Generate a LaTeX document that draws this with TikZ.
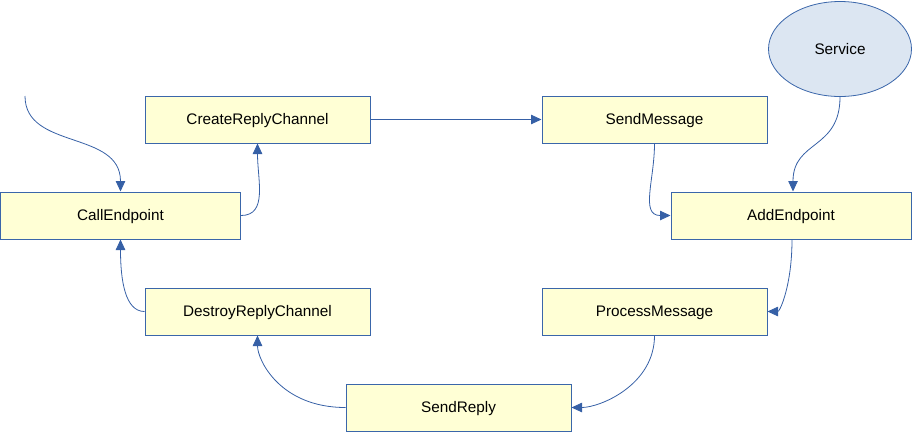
\documentclass[tikz,border=0pt]{standalone}
\usepackage{fontspec}
\setmainfont{Liberation Sans}
\usetikzlibrary{arrows.meta,shapes.geometric}
\definecolor{boxfill}{RGB}{255,255,213}
\definecolor{boxline}{RGB}{58,102,170}
\definecolor{ellfill}{RGB}{220,230,242}
\definecolor{edgec}{RGB}{54,96,166}
\begin{document}
\begin{tikzpicture}[x=1pt,y=-1pt,
  stepbox/.style={draw=boxline,fill=boxfill,line width=1pt,minimum width=225pt,minimum height=47pt,inner sep=0pt,text height=11pt,text depth=1pt,font=\fontsize{15.3}{18}\selectfont},
  widebox/.style={stepbox,minimum width=240pt},
  svc/.style={draw=boxline,fill=ellfill,line width=0.8pt,ellipse,minimum width=143pt,minimum height=95pt,inner sep=0pt,text height=11pt,text depth=1pt,font=\fontsize{15.3}{18}\selectfont},
  arr/.style={draw=edgec,line width=0.8pt,-{Triangle[length=10.5pt,width=9.5pt]},fill=none}]
\useasboundingbox (0,0) rectangle (912,432);
\node[stepbox] (crc) at (257.5,119.5) {CreateReplyChannel};
\node[stepbox] (sm) at (654.5,119.5) {SendMessage};
\node[widebox] (call) at (120.5,215.5) {CallEndpoint};
\node[widebox] (ae) at (791,215.5) {AddEndpoint};
\node[stepbox] (dr) at (257.5,311.5) {DestroyReplyChannel};
\node[stepbox] (pm) at (654.5,311.5) {ProcessMessage};
\node[stepbox] (sr) at (458.5,407.5) {SendReply};
\node[svc] (svc) at (840,49) {Service};
\coordinate (start) at (25,96);
\draw[arr] (start) .. controls (25,150) and (120.5,130) .. (call.north);
\draw[arr] (call.east) .. controls (268,215.5) and (257.5,180) .. (crc.south);
\draw[arr] (crc.east) -- (sm.west);
\draw[arr] (sm.south) .. controls (654.5,180) and (640,215.5) .. (ae.west);
\draw[arr] (svc.south) .. controls (840,150) and (793,140) .. ([xshift=2pt]ae.north);
\draw[arr] ([xshift=1pt]ae.south) .. controls (792,285) and (780,311.5) .. (pm.east);
\draw[arr] (pm.south) .. controls (654.5,385) and (600,407.5) .. (sr.east);
\draw[arr] (sr.west) .. controls (280,407.5) and (257.5,360) .. (dr.south);
\draw[arr] (dr.west) .. controls (125,311.5) and (120.5,280) .. (call.south);
\end{tikzpicture}
\end{document}
